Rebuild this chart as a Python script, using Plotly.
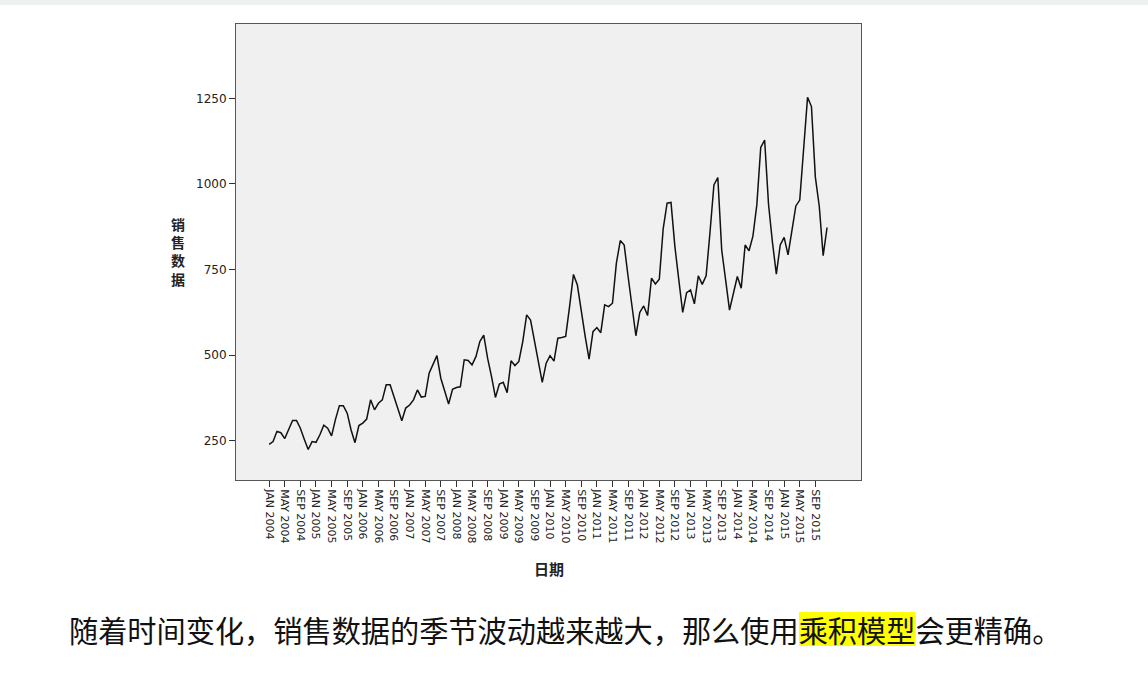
import plotly.graph_objects as go

# monthly sales, JAN 2004 .. DEC 2015
sales_2004 = [240, 248, 278, 274, 257, 284, 310, 310, 287, 255, 225, 248]
sales_2005 = [246, 268, 296, 287, 265, 313, 353, 353, 331, 282, 245, 295]
sales_2006 = [302, 314, 370, 341, 360, 370, 414, 414, 380, 341, 309, 346]
sales_2007 = [355, 370, 399, 378, 380, 448, 472, 499, 433, 394, 358, 401]
sales_2008 = [406, 408, 487, 485, 472, 496, 540, 559, 491, 438, 377, 416]
sales_2009 = [421, 391, 484, 470, 482, 540, 618, 603, 540, 477, 421, 477]
sales_2010 = [499, 483, 550, 552, 555, 642, 736, 705, 628, 555, 489, 569]
sales_2011 = [581, 566, 647, 642, 652, 769, 835, 822, 730, 637, 557, 625]
sales_2012 = [644, 616, 725, 708, 722, 870, 944, 946, 817, 720, 625, 683]
sales_2013 = [691, 650, 732, 707, 732, 860, 997, 1019, 807, 720, 632, 681]
sales_2014 = [730, 696, 822, 805, 848, 939, 1107, 1128, 940, 830, 737, 822]
sales_2015 = [844, 793, 861, 936, 953, 1099, 1253, 1226, 1020, 935, 791, 873]

years = list(range(2004, 2016))
month_names = ['JAN', 'FEB', 'MAR', 'APR', 'MAY', 'JUN',
               'JUL', 'AUG', 'SEP', 'OCT', 'NOV', 'DEC']
tick_months = ['JAN', 'MAY', 'SEP']
y_ticks = [250, 500, 750, 1000, 1250]

sales = (sales_2004 + sales_2005 + sales_2006 + sales_2007 + sales_2008 + sales_2009
         + sales_2010 + sales_2011 + sales_2012 + sales_2013 + sales_2014 + sales_2015)
month_labels = [m + ' ' + str(y) for y in years for m in month_names]
idx = list(range(len(sales)))

tick_vals = [i for i, lab in enumerate(month_labels) if lab[:3] in tick_months]
tick_text = [month_labels[i] for i in tick_vals]

caption_before = '随着时间变化，销售数据的季节波动越来越大，那么使用'
caption_mark = '乘积模型'
caption_after = '会更精确。'

fig = go.Figure()
fig.add_trace(go.Scatter(
    x=idx, y=sales, mode='lines',
    line=dict(color='#111111', width=1.5),
    text=month_labels, hoverinfo='text+y',
))

W, H = 1148, 677
L, R, T, B = 236, 861, 24, 480
pw, ph = R - L, B - T

def px(x):
    return (x - L) / pw

def py(y):
    return (B - y) / ph

fig.update_layout(
    width=W, height=H,
    margin=dict(l=L, r=W - R, t=T, b=H - B),
    paper_bgcolor='white',
    plot_bgcolor='#f0f0f0',
    showlegend=False,
    font=dict(family='DejaVu Sans', color='#222222'),
    xaxis=dict(
        range=[-8.5, 151.7],
        tickvals=tick_vals, ticktext=tick_text,
        tickangle=90, tickfont=dict(size=11, color='#222222'),
        ticks='outside', ticklen=6, tickcolor='#333333',
        showgrid=False, zeroline=False,
        showline=True, linecolor='#555555', linewidth=1, mirror=True,
    ),
    yaxis=dict(
        range=[136, 1467],
        tickvals=y_ticks,
        tickfont=dict(size=12, color='#222222'),
        ticks='outside', ticklen=6, tickcolor='#333333',
        showgrid=False, zeroline=False,
        showline=True, linecolor='#555555', linewidth=1, mirror=True,
    ),
)

# light strip at the very top of the page
fig.add_shape(type='rect', xref='paper', yref='paper',
              x0=px(0), x1=px(W), y0=py(5), y1=py(0),
              fillcolor='#eef1f1', line=dict(width=0), layer='below')

cjk = 'Noto Sans CJK SC'

fig.add_annotation(text='<b>销<br>售<br>数<br>据</b>', xref='paper', yref='paper',
                   x=px(178), y=py(251), xanchor='center', yanchor='middle',
                   showarrow=False,
                   font=dict(family=cjk, size=14, color='#222222'))
fig.add_annotation(text='<b>日期</b>', xref='paper', yref='paper',
                   x=px(549), y=py(568), xanchor='center', yanchor='middle',
                   showarrow=False,
                   font=dict(family=cjk, size=15, color='#222222'))

# caption: full-width glyphs, one em each, highlight box behind the marked words
cap_size = 29.2
cap_x0 = 67
n_before = len(caption_before)
n_mark = len(caption_mark)
fig.add_shape(type='rect', xref='paper', yref='paper',
              x0=px(cap_x0 + 2 + n_before * cap_size),
              x1=px(cap_x0 + 2 + (n_before + n_mark) * cap_size),
              y0=py(646), y1=py(612),
              fillcolor='#ffff00', line=dict(width=0), layer='below')
fig.add_annotation(text=caption_before + caption_mark + caption_after,
                   xref='paper', yref='paper',
                   x=px(cap_x0), y=py(629), xanchor='left', yanchor='middle',
                   showarrow=False,
                   font=dict(family=cjk, size=cap_size, color='#111111'))

fig.write_html('out.html', config={'displayModeBar': False},
               post_script="document.body.style.margin='0';")
